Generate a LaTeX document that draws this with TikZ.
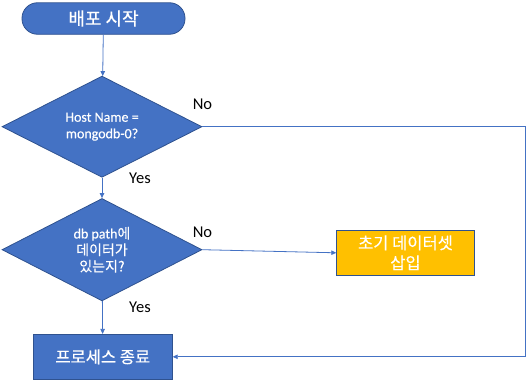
\documentclass[tikz,border=0pt]{standalone}
\usepackage{fontspec}
\setmainfont{Carlito}
\newfontfamily\kr[FakeBold=0.4]{Noto Sans CJK KR}
\newfontfamily\lat[FakeBold=0.35]{Carlito}
\usetikzlibrary{shapes.geometric,arrows.meta}
\definecolor{fillblue}{HTML}{4472C4}
\definecolor{edgeblue}{HTML}{2F528F}
\definecolor{lineblue}{HTML}{4472C4}
\definecolor{gold}{HTML}{FFC000}
\tikzset{
  terminal/.style={draw=edgeblue, line width=0.8pt, fill=fillblue, rounded corners=15.5pt,
    minimum width=163pt, minimum height=31.5pt, inner sep=0pt, text=white},
  decision/.style={diamond, draw=edgeblue, line width=0.8pt, fill=fillblue, inner sep=0pt,
    minimum width=200pt, minimum height=87pt, text=white, align=center},
  procbox/.style={draw=edgeblue, line width=0.8pt, fill=fillblue, minimum width=139pt,
    minimum height=45pt, inner sep=0pt, text=white, align=center},
  golden/.style={draw=edgeblue, line width=0.8pt, fill=gold, minimum width=137.6pt,
    minimum height=44.3pt, inner sep=0pt, text=white, align=center},
  conn/.style={draw=lineblue, line width=0.8pt, -{Triangle[length=5pt,width=4.5pt]}},
  yn/.style={font=\fontsize{16.5}{18}\selectfont, text=black, inner sep=0pt},
}
\begin{document}
\begin{tikzpicture}[x=1pt, y=-1pt]
\useasboundingbox (0,0) rectangle (527,380);
\node[terminal, font=\kr\fontsize{18}{20}\selectfont] (start) at (103.5,18.5) {\raisebox{1.5pt}{배포 시작}};
\node[decision, font=\lat\fontsize{14}{16.5}\selectfont] (d1) at (102,126.7) {Host Name =\\mongodb-0?};
\node[decision, minimum height=86pt, font=\lat\fontsize{14}{16.5}\selectfont] (d2) at (102,249.7) {db path{\kr 에}\\{\kr 데이터가}\\{\kr 있는지?}};
\node[procbox, font=\kr\fontsize{16.5}{18}\selectfont] (stop) at (102.8,356.8) {프로세스 종료};
\node[golden, font=\kr\fontsize{16.5}{20}\selectfont] (init) at (405.5,252.8) {초기 데이터셋\\삽입};
\coordinate (rr) at (525.5,0);
\node[yn] (no1) at (202.5,104) {No};
\node[yn] (yes1) at (140,178) {Yes};
\node[yn] (no2) at (202.5,232) {No};
\node[yn] (yes2) at (140,307) {Yes};
\draw[conn] (start) -- (d1);
\draw[conn] (d1) -- (d2);
\draw[conn] (d2) -- (stop);
\draw[conn] (d2.east) -- (init.west);
\draw[conn] (d1.east) -- (d1.east -| rr) |- (stop.east);
\end{tikzpicture}
\end{document}
